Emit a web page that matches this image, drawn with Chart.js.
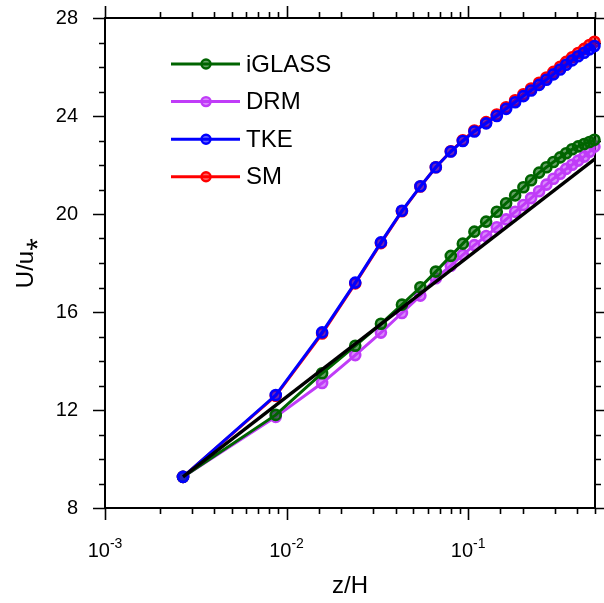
<!DOCTYPE html>
<html>
<head>
<meta charset="utf-8">
<script src="https://cdn.jsdelivr.net/npm/chart.js@4.4.0/dist/chart.umd.min.js"></script>
<style>
  html, body { margin: 0; padding: 0; background: #fff; }
  #wrap { width: 604px; height: 603px; }
</style>
</head>
<body>
<div id="wrap"><canvas id="profile" width="604" height="603"></canvas></div>
<script>
// z/H levels and U/u* profiles
const zH = [0.00269, 0.00872, 0.0157, 0.0239, 0.0331, 0.0432, 0.0546, 0.0664, 0.0803, 0.0935, 0.1083, 0.1257, 0.1439, 0.1620, 0.1816, 0.2017, 0.2224, 0.2461, 0.2700, 0.2951, 0.3213, 0.3467, 0.3741, 0.4037, 0.4357, 0.4660, 0.4966];
const iglass = [9.27, 11.80, 13.50, 14.62, 15.52, 16.30, 17.01, 17.65, 18.29, 18.79, 19.28, 19.69, 20.09, 20.44, 20.76, 21.09, 21.38, 21.69, 21.91, 22.12, 22.31, 22.48, 22.64, 22.76, 22.86, 22.94, 23.03];
const drm = [9.27, 11.72, 13.10, 14.24, 15.16, 15.96, 16.67, 17.38, 17.89, 18.33, 18.73, 19.10, 19.46, 19.78, 20.09, 20.37, 20.65, 20.93, 21.20, 21.44, 21.64, 21.84, 22.01, 22.18, 22.34, 22.54, 22.75];
const tke = [9.27, 12.61, 15.17, 17.20, 18.84, 20.13, 21.13, 21.91, 22.55, 22.98, 23.37, 23.70, 24.00, 24.29, 24.56, 24.81, 25.04, 25.27, 25.48, 25.70, 25.90, 26.09, 26.27, 26.44, 26.58, 26.72, 26.86];
const sm = [9.27, 12.58, 15.12, 17.17, 18.81, 20.11, 21.12, 21.91, 22.56, 23.01, 23.41, 23.75, 24.06, 24.36, 24.64, 24.89, 25.12, 25.36, 25.57, 25.80, 26.01, 26.21, 26.40, 26.57, 26.74, 26.90, 27.03];
// log-law reference line (end points)
const logLawZ = [0.00269, 0.5];
const logLawU = [9.27, 22.25];

const seriesNames = ["iGLASS", "DRM", "TKE", "SM"];
const seriesColors = ["#006400", "#c03cf8", "#0000ff", "#ff0000"];
const xTickExp = [-3, -2, -1];
const yTicks = [8, 12, 16, 20, 24, 28];

const FONT = "'Liberation Sans', Arial, Helvetica, sans-serif";
const pts = ys => ys.map((y, i) => ({ x: zH[i], y }));

function tint(hex, a) {
  const n = parseInt(hex.slice(1), 16);
  return `rgba(${n >> 16},${(n >> 8) & 255},${n & 255},${a})`;
}

function series(i, data, order) {
  const c = seriesColors[i];
  return {
    label: seriesNames[i], data: pts(data), order,
    borderColor: c, borderWidth: 3, clip: false,
    pointRadius: 5, pointBorderWidth: 2.6, pointBorderColor: c, pointBackgroundColor: tint(c, 0.6)
  };
}

// frame + outward ticks on all four sides, power-of-ten labels
const framePlugin = {
  id: "frame",
  beforeDatasetsDraw(chart) {
    const { ctx, chartArea: a, scales } = chart;
    ctx.save();
    ctx.strokeStyle = "#000";
    ctx.lineWidth = 1.6;
    ctx.beginPath();
    scales.x.ticks.forEach(t => {
      const px = Math.round(scales.x.getPixelForValue(t.value)) + 0.5;
      const major = Math.abs(Math.log10(t.value) - Math.round(Math.log10(t.value))) < 1e-6;
      const len = major ? 12 : 6;
      ctx.moveTo(px, a.bottom); ctx.lineTo(px, a.bottom + len);
      ctx.moveTo(px, a.top); ctx.lineTo(px, a.top - len);
    });
    for (let v = scales.y.min; v <= scales.y.max; v++) {
      const py = Math.round(scales.y.getPixelForValue(v)) + 0.5;
      const len = yTicks.includes(v) ? 12 : 6;
      ctx.moveTo(a.left, py); ctx.lineTo(a.left - len, py);
      ctx.moveTo(a.right, py); ctx.lineTo(a.right + len, py);
    }
    ctx.stroke();
    ctx.lineWidth = 2;
    ctx.strokeRect(a.left, a.top, a.right - a.left, a.bottom - a.top);

    // x labels: "10" with a raised exponent
    ctx.fillStyle = "#000";
    ctx.textBaseline = "alphabetic";
    xTickExp.forEach(e => {
      const px = scales.x.getPixelForValue(Math.pow(10, e));
      ctx.font = `20px ${FONT}`;
      const wBase = ctx.measureText("10").width;
      ctx.font = `14px ${FONT}`;
      const wExp = ctx.measureText(String(e)).width;
      const x0 = px - (wBase + wExp) / 2;
      const base = a.bottom + 49;
      ctx.font = `20px ${FONT}`;
      ctx.textAlign = "left";
      ctx.fillText("10", x0, base);
      ctx.font = `14px ${FONT}`;
      ctx.fillText(String(e), x0 + wBase, base - 9);
    });
    ctx.restore();
  }
};

// legend drawn inside the plot area
const legendPlugin = {
  id: "insideLegend",
  afterDatasetsDraw(chart) {
    const { ctx, chartArea: a } = chart;
    ctx.save();
    ctx.font = `24px ${FONT}`;
    ctx.textBaseline = "middle";
    seriesNames.forEach((name, i) => {
      const y = a.top + 46 + i * 37.6;
      const c = seriesColors[i];
      ctx.strokeStyle = c; ctx.lineWidth = 3;
      ctx.beginPath(); ctx.moveTo(a.left + 66, y); ctx.lineTo(a.left + 135, y); ctx.stroke();
      ctx.beginPath(); ctx.arc(a.left + 101, y, 4.5, 0, Math.PI * 2);
      ctx.fillStyle = tint(c, 0.6); ctx.fill();
      ctx.lineWidth = 2.4; ctx.stroke();
      ctx.fillStyle = "#000";
      ctx.fillText(name, a.left + 141, y + 1);
    });
    ctx.restore();
  }
};

new Chart(document.getElementById("profile"), {
  type: "line",
  data: {
    datasets: [
      { label: "log law", data: logLawZ.map((x, i) => ({ x, y: logLawU[i] })), order: 0, borderColor: "#000", borderWidth: 3.4, pointRadius: 0 },
      series(2, tke, 1),
      series(0, iglass, 2),
      series(1, drm, 3),
      series(3, sm, 4)
    ]
  },
  options: {
    responsive: false,
    animation: false,
    layout: { padding: { top: 18, right: 9, left: 0, bottom: 0 } },
    plugins: { legend: { display: false }, tooltip: { enabled: false } },
    scales: {
      x: {
        type: "logarithmic", min: 0.001, max: 0.5,
        grid: { display: false, drawTicks: false },
        border: { display: false },
        ticks: { autoSkip: false, maxRotation: 0, padding: 28, font: { family: FONT, size: 20 }, callback: () => "" },
        title: { display: true, text: "z/H", color: "#000", font: { family: FONT, size: 24 }, padding: { top: 0, bottom: 2 } },
        afterFit: s => { s.height = 95; s.paddingLeft = 0; s.paddingRight = 0; }
      },
      y: {
        min: 8, max: 28,
        grid: { display: false, drawTicks: false },
        border: { display: false },
        afterBuildTicks: s => { s.ticks = yTicks.map(v => ({ value: v })); },
        ticks: { padding: 27, color: "#000", font: { family: FONT, size: 20 } },
        title: { display: true, text: "U/u⁎", color: "#000", font: { family: FONT, size: 24 }, padding: { top: 12, bottom: 0 } },
        afterFit: s => { s.width = 105; s.paddingTop = 0; s.paddingBottom = 0; }
      }
    }
  },
  plugins: [framePlugin, legendPlugin]
});
</script>
</body>
</html>
